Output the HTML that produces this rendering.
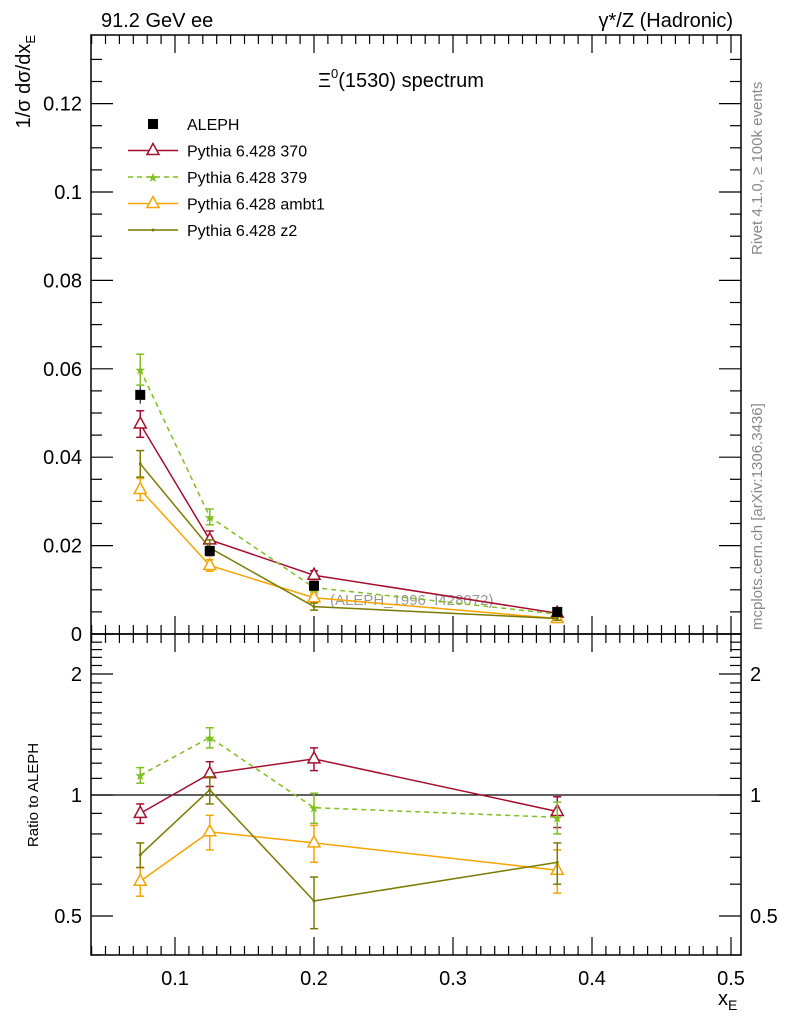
<!DOCTYPE html>
<html><head><meta charset="utf-8"><style>
body{margin:0;background:#fff;}
svg{display:block;font-family:"Liberation Sans",sans-serif;}
</style></head><body>
<svg id="c" width="786" height="1024"></svg>
<script>
const xVals=[0.075,0.125,0.2,0.375];
const alephY=[0.0541,0.0188,0.0109,0.0050];
const alephErr=[0.0020,0.0012,0.0010,0.0006];
const s370=[0.0475,0.0213,0.0133,0.0047];
const s370Err=[0.0030,0.0020,0.0010,0.0005];
const s379=[0.0598,0.0265,0.0105,0.0045];
const s379Err=[0.0035,0.0018,0.0010,0.0005];
const sAmbt1=[0.0327,0.0155,0.0082,0.0035];
const sAmbt1Err=[0.0025,0.0013,0.0008,0.0004];
const sZ2=[0.0385,0.0195,0.0062,0.0035];
const sZ2Err=[0.0030,0.0018,0.0008,0.0004];
const r370=[0.90,1.13,1.23,0.91];
const r379=[1.12,1.39,0.93,0.88];
const rAmbt1=[0.61,0.81,0.76,0.65];
const rZ2=[0.71,1.03,0.545,0.68];
const rErr=[0.05,0.08,0.08,0.08];
const xTicks=[0.1,0.2,0.3,0.4,0.5];
const yTicks=[0,0.02,0.04,0.06,0.08,0.1,0.12];
const yTickLabels=["0","0.02","0.04","0.06","0.08","0.1","0.12"];
const rTicks=[0.5,1,2];

const NS="http://www.w3.org/2000/svg",svg=document.getElementById('c');
const L=91,R=741,T=35,M=634,B=955;
const X=v=>36+(v)*1390;
const Y=v=>634-v*4420;
const RY=v=>795-121*Math.log2(v);
function el(t,a,name,p){const e=document.createElementNS(NS,t);for(const k in a)e.setAttribute(k,a[k]);


(p||svg).appendChild(e);return e;}
function txt(x,y,s,name,o){const e=el('text',Object.assign({x:x,y:y,'font-size':20,fill:'#000'},o||{}),name);e.innerHTML=s;return e;}
el('rect',{x:L,y:T,width:R-L,height:M-T,fill:'none',stroke:'#000','stroke-width':1.5},'main-frame');
el('rect',{x:L,y:M,width:R-L,height:B-M,fill:'none',stroke:'#000','stroke-width':1.5},'ratio-frame');
for(let v=0.04;v<=0.505;v+=0.01){const x=X(v);const maj=Math.abs(v*10-Math.round(v*10))<1e-6;const l=maj?18:9;
[[M,M-l],[B,B-l],[M,M+l],[T,T+l]].forEach(a=>el('line',{x1:x,x2:x,y1:a[0],y2:a[1],stroke:'#000','stroke-width':1.2},'x-tick'));}
xTicks.forEach(v=>txt(X(v),985,String(v),'x-tick-label',{'text-anchor':'middle'}));
for(let v=0;v<=0.135;v+=0.005){const y=Y(v);const maj=Math.abs(v*50-Math.round(v*50))<1e-6;const l=maj?22:11;
el('line',{x1:L,x2:L+l,y1:y,y2:y,stroke:'#000','stroke-width':1.2},'y-tick');el('line',{x1:R,x2:R-l,y1:y,y2:y,stroke:'#000','stroke-width':1.2},'y-tick');}
yTicks.forEach((v,i)=>txt(82,Y(v)+7,yTickLabels[i],'y-tick-label',{'text-anchor':'end'}));
for(let v=0.4;v<=2.5;v+=0.1){const y=RY(v);const maj=rTicks.some(t=>Math.abs(t-v)<1e-6);const l=maj?22:11;
el('line',{x1:L,x2:L+l,y1:y,y2:y,stroke:'#000','stroke-width':1.2},'ratio-tick');el('line',{x1:R,x2:R-l,y1:y,y2:y,stroke:'#000','stroke-width':1.2},'ratio-tick');}
rTicks.forEach(v=>{txt(82,RY(v)+7,String(v),'ratio-tick-label',{'text-anchor':'end'});txt(750,RY(v)+7,String(v),'ratio-tick-label-right');});
el('line',{x1:L,x2:R,y1:RY(1),y2:RY(1),stroke:'#000','stroke-width':1.2},'ratio-unity-line');
txt(101,27,'91.2 GeV ee','process-label');
txt(733,27,'γ*/Z (Hadronic)','process-type',{'text-anchor':'end'});
txt(318,87,'Ξ<tspan dy="-9" font-size="13">0</tspan><tspan dy="9">(1530) spectrum</tspan>','plot-title');
txt(0,0,'1/σ  dσ/dx<tspan dy="5" font-size="13">E</tspan>','y-axis-title',{transform:'translate(30,35) rotate(-90)','text-anchor':'end'});
txt(0,0,'Ratio to ALEPH','ratio-axis-title',{transform:'translate(38,795) rotate(-90)','text-anchor':'middle','font-size':15});
txt(718,1005,'x<tspan dy="5" font-size="14">E</tspan>','x-axis-title');
txt(0,0,'Rivet 4.1.0, ≥ 100k events','rivet-label',{transform:'translate(762,255) rotate(-90)','font-size':15,fill:'#888'});
txt(0,0,'mcplots.cern.ch [arXiv:1306.3436]','mcplots-label',{transform:'translate(762,630) rotate(-90)','font-size':15,fill:'#888'});
txt(330,605,'(ALEPH_1996_I428072)','ref-label',{'font-size':15,fill:'#999'});
function series(vals,errs,yf,col,dash,marker,name){
 const pts=xVals.map((x,i)=>X(x)+','+yf(vals[i])).join(' ');
 el('polyline',{points:pts,fill:'none',stroke:col,'stroke-width':1.5,'stroke-dasharray':dash||''},name+'-line');
 xVals.forEach((x,i)=>{const cx=X(x),lo=yf(vals[i]-errs[i]),hi=yf(vals[i]+errs[i]);
  el('line',{x1:cx,x2:cx,y1:lo,y2:hi,stroke:col,'stroke-width':1.5},name+'-errorbar');
  [lo,hi].forEach(y=>el('line',{x1:cx-4,x2:cx+4,y1:y,y2:y,stroke:col,'stroke-width':1.5},name+'-errorcap'));
  drawMarker(cx,yf(vals[i]),col,marker,name+'-point');});
}
function drawMarker(cx,cy,col,m,name){
 if(m==='tri')el('polygon',{points:`${cx},${cy-7} ${cx-6},${cy+4} ${cx+6},${cy+4}`,fill:'#fff',stroke:col,'stroke-width':1.5},name);
 else if(m==='star'){txt(cx,cy+5,'★',name,{'text-anchor':'middle','font-size':13,fill:col});}
 else if(m==='dot')el('circle',{cx:cx,cy:cy,r:1.5,fill:col},name);
 else if(m==='sq')el('rect',{x:cx-5,y:cy-5,width:10,height:10,fill:'#000'},name);
}
const C370='#a50f2e',C379='#7fbf1f',CA='#f5a400',CZ='#7a7a00';
series(s370,s370Err,Y,C370,'','tri','pythia-370');
series(s379,s379Err,Y,C379,'5,4','star','pythia-379');
series(sAmbt1,sAmbt1Err,Y,CA,'','tri','pythia-ambt1');
series(sZ2,sZ2Err,Y,CZ,'','dot','pythia-z2');
xVals.forEach((x,i)=>{const cx=X(x);el('line',{x1:cx,x2:cx,y1:Y(alephY[i]-alephErr[i]),y2:Y(alephY[i]+alephErr[i]),stroke:'#000'},'aleph-errorbar');drawMarker(cx,Y(alephY[i]),'#000','sq','aleph-point');});
series(r370,rErr,RY,C370,'','tri','ratio-370');
series(r379,rErr,RY,C379,'5,4','star','ratio-379');
series(rAmbt1,rErr,RY,CA,'','tri','ratio-ambt1');
series(rZ2,rErr,RY,CZ,'','dot','ratio-z2');
const leg=[['ALEPH','#000','','sq'],['Pythia 6.428 370',C370,'','tri'],['Pythia 6.428 379',C379,'5,4','star'],['Pythia 6.428 ambt1',CA,'','tri'],['Pythia 6.428 z2',CZ,'','dot']];
leg.forEach((l,i)=>{const y=124+i*26.5;
 if(l[3]!=='sq')el('line',{x1:128,x2:178,y1:y,y2:y,stroke:l[1],'stroke-width':1.5,'stroke-dasharray':l[2]},'legend-line');
 drawMarker(153,y,l[1],l[3],'legend-marker');
 txt(187,y+6,l[0],'legend-entry',{'font-size':16});});
</script>
</body></html>
